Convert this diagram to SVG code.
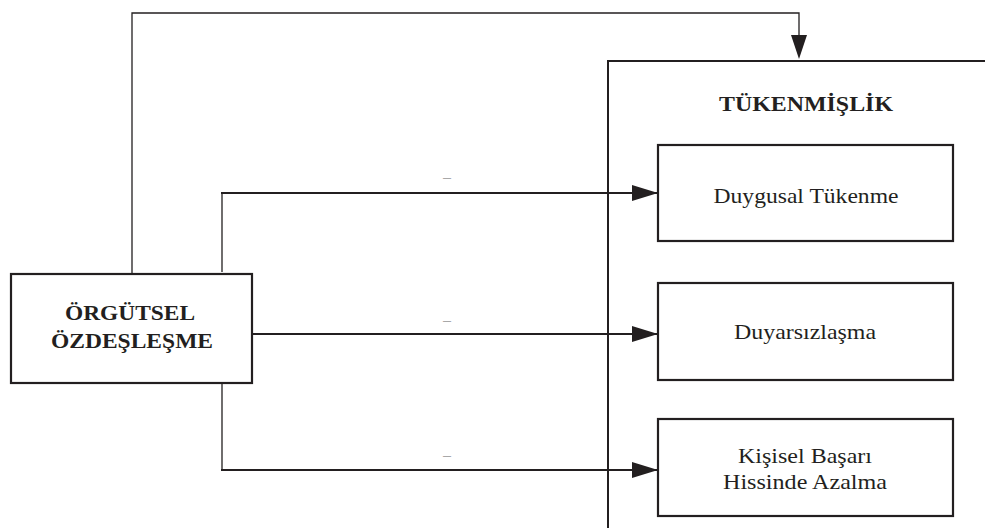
<svg xmlns="http://www.w3.org/2000/svg" width="985" height="528" viewBox="0 0 985 528">
<defs>
<marker id="ah" markerWidth="26" markerHeight="16" refX="26" refY="8" orient="auto" markerUnits="userSpaceOnUse">
<path d="M0,0 L26,8 L0,16 Z" fill="#231f20"/>
</marker>
<style>
.box{fill:#fff;stroke:#231f20;stroke-width:2.2}
.ln{fill:none;stroke:#231f20;stroke-width:2}
.thin{fill:none;stroke:#231f20;stroke-width:1.3}
text{font-family:"Liberation Serif","Times New Roman",serif;fill:#231f20;text-anchor:middle;font-size:22px}
.b{font-weight:bold;font-size:21px}
.m{font-size:14px;fill:#666}
</style>
</defs>
<g id="connectors">
<path class="thin" d="M132,274 V13 H799 V38"/>
<path d="M791,35 L799,59 L807,35 Z" fill="#231f20"/>
<path class="thin" d="M222,272 V193"/>
<path class="ln" d="M221,193 H658" marker-end="url(#ah)"/>
<path class="ln" d="M252,334 H658" marker-end="url(#ah)"/>
<path class="thin" d="M222,383 V470"/>
<path class="ln" d="M221,470 H658" marker-end="url(#ah)"/>
<text class="m" x="447" y="182" textLength="8" lengthAdjust="spacingAndGlyphs">–</text>
<text class="m" x="447" y="325" textLength="8" lengthAdjust="spacingAndGlyphs">–</text>
<text class="m" x="447" y="460" textLength="8" lengthAdjust="spacingAndGlyphs">–</text>
</g>
<g id="tukenmislik">
<path class="ln" d="M608,528 V61 H985" stroke-width="2.2"/>
<text class="b" x="806" y="111" textLength="174" lengthAdjust="spacingAndGlyphs">TÜKENMİŞLİK</text>
</g>
<g id="orgutsel">
<rect class="box" x="11" y="274" width="241" height="109"/>
<text class="b" x="130" y="320" textLength="130" lengthAdjust="spacingAndGlyphs">ÖRGÜTSEL</text>
<text class="b" x="132" y="348" textLength="162" lengthAdjust="spacingAndGlyphs">ÖZDEŞLEŞME</text>
</g>
<g id="duygusal">
<rect class="box" x="658" y="145" width="295" height="96"/>
<text x="806" y="203" textLength="185" lengthAdjust="spacingAndGlyphs">Duygusal Tükenme</text>
</g>
<g id="duyarsizlasma">
<rect class="box" x="658" y="283" width="295" height="97"/>
<text x="805" y="339" textLength="142" lengthAdjust="spacingAndGlyphs">Duyarsızlaşma</text>
</g>
<g id="kisisel">
<rect class="box" x="658" y="419" width="295" height="97"/>
<text x="805" y="463" textLength="134" lengthAdjust="spacingAndGlyphs">Kişisel Başarı</text>
<text x="805" y="489" textLength="164" lengthAdjust="spacingAndGlyphs">Hissinde Azalma</text>
</g>
</svg>
